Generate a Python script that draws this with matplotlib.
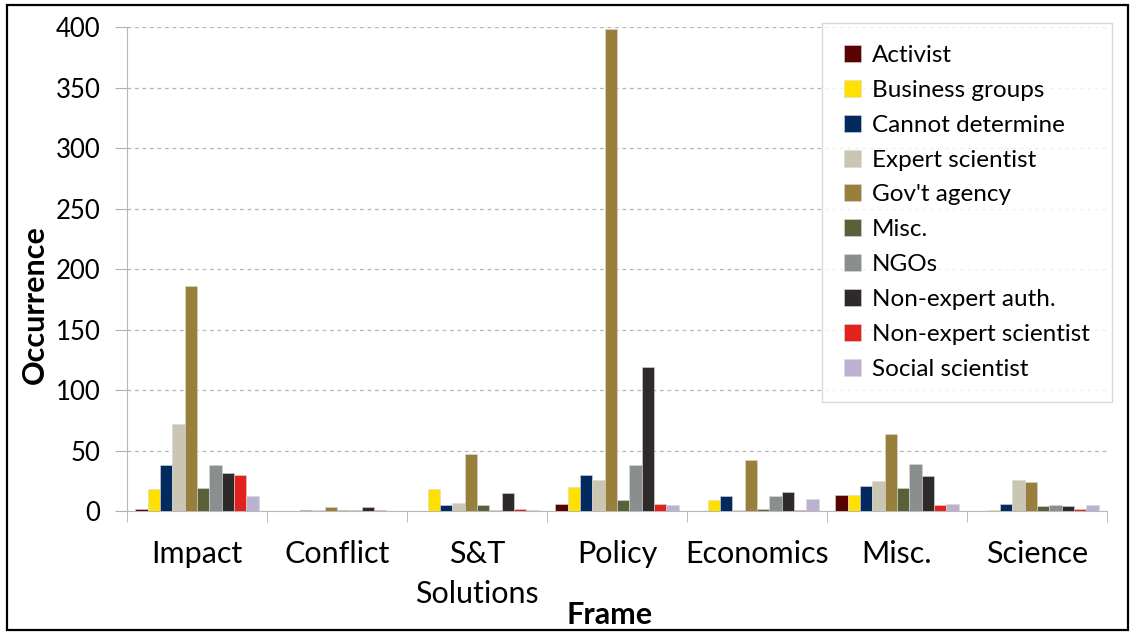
import numpy as np
import matplotlib
matplotlib.use("Agg")
import matplotlib.pyplot as plt
from matplotlib.patches import Rectangle

plt.rcParams['font.family'] = ['Lato', 'DejaVu Sans']

frames = ["Impact", "Conflict", "S&T\nSolutions", "Policy", "Economics", "Misc.", "Science"]

sources = ["Activist", "Business groups", "Cannot determine", "Expert scientist",
           "Gov't agency", "Misc.", "NGOs", "Non-expert auth.",
           "Non-expert scientist", "Social scientist"]

colors = ["#5a0303", "#ffe000", "#022a5e", "#cbc6b4", "#98803c",
          "#5a6038", "#8a8e8f", "#2e2a2a", "#e2231d", "#bdb1d2"]

# occurrence per source, one value per frame
activist          = [2, 0, 0, 6, 0, 13, 0]
business_groups   = [18, 0, 18, 20, 9, 13, 1]
cannot_determine  = [38, 1, 5, 30, 12, 21, 6]
expert_scientist  = [72, 1, 7, 26, 1, 25, 26]
govt_agency       = [186, 3, 47, 398, 42, 64, 24]
misc_source       = [19, 1, 5, 9, 2, 19, 4]
ngos              = [38, 1, 1, 38, 12, 39, 5]
nonexpert_auth    = [31, 3, 15, 119, 16, 29, 4]
nonexpert_sci     = [30, 1, 2, 6, 1, 5, 2]
social_scientist  = [12, 0, 1, 5, 10, 6, 5]

series = [activist, business_groups, cannot_determine, expert_scientist,
          govt_agency, misc_source, ngos, nonexpert_auth, nonexpert_sci,
          social_scientist]

fig = plt.figure(figsize=(11.31, 6.34), dpi=100)
ax = fig.add_axes([0.1123, 0.194, 0.8665, 0.7634])

x = np.arange(len(frames))
width = 0.088
n = len(series)
for i, (vals, name, col) in enumerate(zip(series, sources, colors)):
    offs = (i - (n - 1) / 2) * width
    ax.bar(x + offs, vals, width, color=col, label=name,
           edgecolor="#d8d8d8", linewidth=0.4, zorder=3)

ax.set_xlim(-0.5, len(frames) - 0.5)
ax.set_ylim(0, 400)
ax.set_yticks(np.arange(0, 401, 50))
ax.yaxis.grid(True, linestyle=(0, (3, 3)), color="#b5b5b5", linewidth=0.9, zorder=0)

ax.set_xticks(x)
ax.set_xticklabels(frames, fontsize=22, linespacing=1.5)
ax.set_xticks(np.arange(-0.5, len(frames)), minor=True)
ax.tick_params(axis="x", which="major", length=0, pad=21)
ax.tick_params(axis="x", which="minor", length=8, color="#b0b0b0")
ax.tick_params(axis="y", length=9, color="#b0b0b0", labelsize=18.5, pad=10)

for s in ["top", "right"]:
    ax.spines[s].set_visible(False)
for s in ["left", "bottom"]:
    ax.spines[s].set_color("#b8b8b8")

ax.set_ylabel("Occurrence", fontsize=22, fontweight="bold")
ax.yaxis.set_label_coords(-0.08, 0.426)
ax.set_xlabel("Frame", fontsize=22, fontweight="bold")
ax.xaxis.set_label_coords(0.492, -0.186)

leg = ax.legend(loc="upper right", bbox_to_anchor=(1.005, 1.008), fontsize=17.5,
                frameon=True, fancybox=False, edgecolor="#d0d0d0",
                handlelength=0.7, handleheight=0.7, handletextpad=0.45,
                labelspacing=0.57, borderpad=0.9, borderaxespad=0)
leg.get_frame().set_linewidth(1.0)
leg.set_zorder(5)

# outer border around the whole figure
fig.patches.append(Rectangle((7 / 1131, 4 / 634), 1121 / 1131, 625 / 634,
                             transform=fig.transFigure, fill=False,
                             edgecolor="black", linewidth=1.6))

fig.savefig("out.png", dpi=100)
